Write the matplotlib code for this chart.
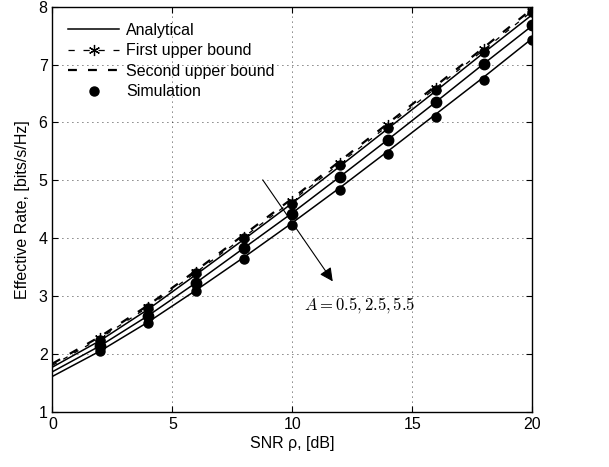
import numpy as np
import matplotlib.pyplot as plt

# SNR grid in dB
snr = [0, 2, 4, 6, 8, 10, 12, 14, 16, 18, 20]
snr_sim = [2, 4, 6, 8, 10, 12, 14, 16, 18, 20]

# analytical effective rate for A = 0.5, 2.5, 5.5
rate_a05 = [1.78, 2.24, 2.78, 3.38, 3.99, 4.61, 5.25, 5.90, 6.55, 7.21, 7.86]
rate_a25 = [1.70, 2.15, 2.67, 3.24, 3.84, 4.44, 5.07, 5.71, 6.36, 7.02, 7.67]
rate_a55 = [1.62, 2.06, 2.56, 3.11, 3.68, 4.27, 4.88, 5.51, 6.15, 6.79, 7.45]

# bounds
upper1 = [1.81, 2.28, 2.82, 3.42, 4.03, 4.65, 5.30, 5.95, 6.60, 7.26, 7.92]
upper2 = [1.84, 2.31, 2.85, 3.45, 4.07, 4.69, 5.34, 5.99, 6.64, 7.30, 7.96]

# Monte-Carlo points
sim_a05 = [2.25, 2.80, 3.40, 4.00, 4.60, 5.26, 5.91, 6.56, 7.21, 7.90]
sim_a25 = [2.15, 2.66, 3.23, 3.84, 4.43, 5.06, 5.70, 6.35, 7.01, 7.68]
sim_a55 = [2.05, 2.55, 3.09, 3.64, 4.23, 4.84, 5.46, 6.09, 6.74, 7.42]

plt.rcParams['font.family'] = ['Liberation Sans', 'DejaVu Sans']
plt.rcParams['mathtext.fontset'] = 'cm'

fig = plt.figure(figsize=(6.09, 4.67), dpi=100)
ax = fig.add_axes([0.086, 0.117, 0.788, 0.869])

asterisk = (6, 2, 0)

lw = 1.1
ax.plot(snr, rate_a05, 'k-', lw=lw, label='Analytical')
ax.plot(snr, rate_a25, 'k-', lw=lw)
ax.plot(snr, rate_a55, 'k-', lw=lw)

ax.plot(snr, upper1, 'k--', lw=0.9, dashes=(4, 6))
ax.plot(snr_sim, upper1[1:], 'k', ls='none', marker=asterisk, ms=8, mew=0.9)
ax.plot([], [], 'k--', marker=asterisk, ms=8, mew=0.9, lw=0.9, dashes=(5, 7),
        label='First upper bound')
ax.plot(snr, upper2, 'k--', lw=1.6, dashes=(4, 5), label='Second upper bound')

ax.plot(snr_sim, sim_a05, 'ko', ms=6.5, label='Simulation')
ax.plot(snr_sim, sim_a25, 'ko', ms=7.5)
ax.plot(snr_sim, sim_a55, 'ko', ms=6.5)

ax.annotate('', xy=(11.75, 3.22), xytext=(8.7, 5.05),
            arrowprops=dict(arrowstyle='-|>', lw=0.8, color='k', mutation_scale=20))
ax.text(10.5, 2.85, r'$A=0.5,2.5,5.5$', fontsize=12, va='center', ha='left')

ax.set_xlim(0, 20)
ax.set_ylim(1, 8)
ax.set_xticks([0, 5, 10, 15, 20])
ax.set_yticks(range(1, 9))
ax.grid(True, color='k', linestyle=(0, (1, 5)), lw=0.6)
ax.tick_params(direction='in', top=True, right=True, labelsize=11.5, length=4)
for s in ax.spines.values():
    s.set_linewidth(1.0)

ax.set_xlabel(r'SNR ρ, [dB]', fontsize=11.5, labelpad=3)
ax.set_ylabel('Effective Rate, [bits/s/Hz]', fontsize=11.5, labelpad=6)

ax.legend(loc='upper left', frameon=False, fontsize=11.5, handlelength=3.2,
          handletextpad=0.4, labelspacing=0.35, borderaxespad=0.6)

fig.savefig('out.png', dpi=100)
